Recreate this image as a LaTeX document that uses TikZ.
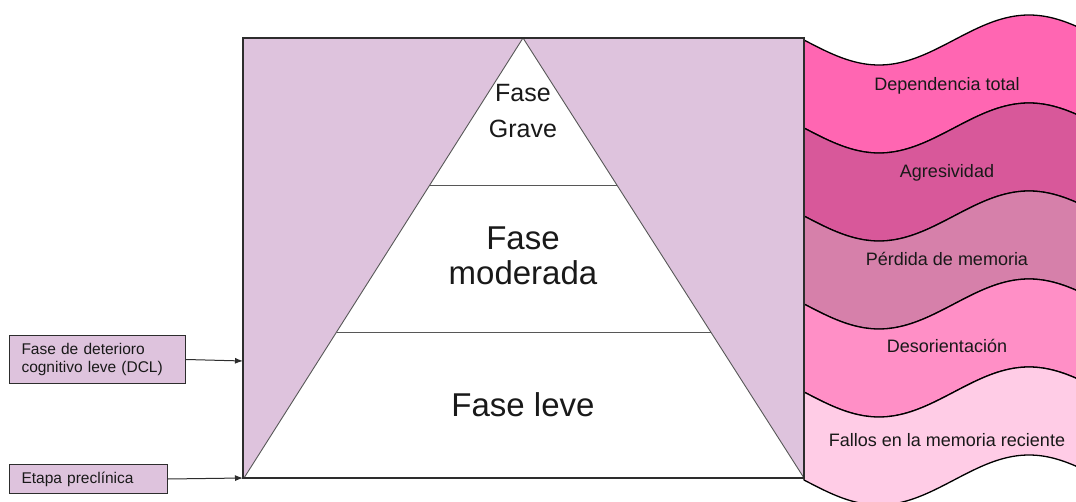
\documentclass[tikz,border=0pt]{standalone}
\usepackage{fontspec}
\setmainfont{Liberation Sans}
\usetikzlibrary{arrows.meta}
\definecolor{lilac}{RGB}{222,195,221}
\definecolor{bandA}{RGB}{255,102,178}
\definecolor{bandB}{RGB}{216,88,154}
\definecolor{bandC}{RGB}{214,128,170}
\definecolor{bandD}{RGB}{255,143,198}
\definecolor{bandE}{RGB}{255,204,230}
\definecolor{edge}{RGB}{45,45,45}
\definecolor{txt}{RGB}{25,25,25}
\begin{document}
\begin{tikzpicture}[x=1pt,y=-1pt,
  band/.style={draw=black,line width=1.3pt,line join=round},
  rectline/.style={draw=edge,line width=1.3pt},
  triline/.style={draw=edge!80,line width=0.9pt},
  sidebox/.style={draw=edge,line width=1pt,fill=lilac,anchor=north west,inner xsep=12pt,inner ysep=0pt,
    align=left,text=txt,font=\fontsize{15.5}{18}\selectfont},
  bandlabel/.style={anchor=base,inner sep=0pt,text=txt,font=\fontsize{18}{20}\selectfont},
  pyrlabel/.style={inner sep=0pt,align=center,text=txt},
  arr/.style={draw=edge,line width=1pt,-{Latex[length=8pt,width=6pt]}}]
\useasboundingbox (0,0) rectangle (1076,502);
\clip (0,0) rectangle (1076,502);
% wave bands
\foreach \i/\c in {0/bandA,1/bandB,2/bandC,3/bandD,4/bandE}{
  \pgfmathsetmacro\ya{40+88*\i}
  \pgfmathsetmacro\yb{128+88*\i}
  \draw[band,fill=\c] plot[domain=804:1090,samples=90] (\x,{\ya+25*sin(1.2*(\x-804))})
    -- plot[domain=1090:804,samples=90] (\x,{\yb+25*sin(1.2*(\x-804))}) -- cycle;
}
% frame and pyramid
\fill[lilac] (243,38) rectangle (804,478);
\filldraw[triline,fill=white] (523,38) -- (244,478) -- (804,478) -- cycle;
\draw[triline] (430,185) -- (617,185);
\draw[triline] (337,332) -- (711,332);
\draw[rectline] (243,38) rectangle (804,478);
% pyramid labels
\node[pyrlabel,font=\fontsize{25}{36}\selectfont] (grave) at (523,111) {Fase\\Grave};
\node[pyrlabel,font=\fontsize{33}{35}\selectfont] (moderada) at (523,256) {Fase\\moderada};
\node[pyrlabel,font=\fontsize{33}{35}\selectfont,anchor=base] (leve) at (523,416) {Fase leve};
% band labels
\node[bandlabel] (b1) at (947,91) {Dependencia total};
\node[bandlabel] (b2) at (947,178) {Agresividad};
\node[bandlabel] (b3) at (947,266) {Pérdida de memoria};
\node[bandlabel] (b4) at (947,353) {Desorientación};
\node[bandlabel] (b5) at (947,446) {Fallos en la memoria reciente};
% left boxes
\node[sidebox,text width=152pt,minimum height=48pt] (dcl) at (9,335) {Fase de deterioro\\cognitivo leve (DCL)};
\node[sidebox,text width=134pt,minimum height=29pt] (pre) at (9,464) {Etapa preclínica};
\coordinate (t1) at (243,361);
\coordinate (t2) at (243,478);
\draw[arr] (dcl.east) -- (t1);
\draw[arr] (pre.east) -- (t2);
\end{tikzpicture}
\end{document}
